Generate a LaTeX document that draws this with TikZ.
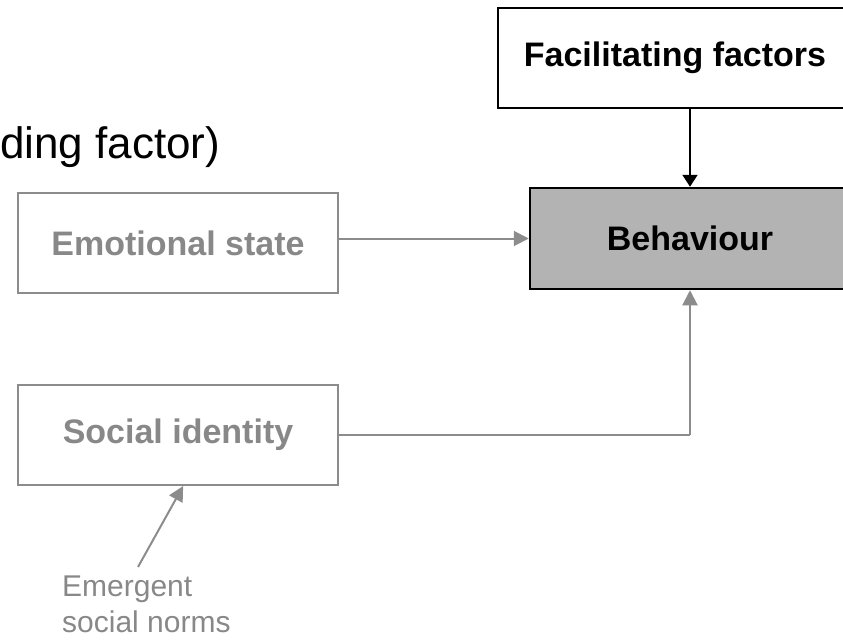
\documentclass[tikz,border=0pt]{standalone}
\usepackage{fontspec}
\setmainfont{Liberation Sans}
\usetikzlibrary{arrows.meta,calc}
\definecolor{linegray}{HTML}{8C8C8C}
\definecolor{textgray}{HTML}{888888}
\definecolor{behfill}{HTML}{B3B3B3}

\begin{document}
\begin{tikzpicture}[x=1pt,y=-1pt,
  box/.style={draw, rectangle, inner sep=0pt, line width=2pt,
    font=\fontsize{34}{40}\selectfont\bfseries},
  greybox/.style={box, draw=linegray, text=textgray},
  blackbox/.style={box, draw=black},
  greyline/.style={draw=linegray, line width=2pt},
  greyarrow/.style={greyline, -{Triangle[length=15pt,width=15pt]}},
  blackarrow/.style={draw=black, line width=2pt, -{Triangle[length=12pt,width=15pt]}},
]
\useasboundingbox (0,0) rectangle (843,642);

% heading fragment at the top left
\node[anchor=base west, inner sep=0pt, font=\fontsize{44}{52}\selectfont] (title)
  at (0,158) {ding factor)};

% boxes
\node[blackbox, minimum width=354pt, minimum height=100pt] (fac) at (675,58)
  {Facilitating factors};
\node[blackbox, fill=behfill, line width=2.5pt, minimum width=320pt, minimum height=101pt]
  (beh) at (690,238.5) {Behaviour};
\node[greybox, minimum width=320pt, minimum height=100pt] (emo) at (178,243)
  {Emotional state};
\node[greybox, minimum width=320pt, minimum height=100pt] (soc) at (178,435)
  {Social identity};

% label below the social identity box
\node[anchor=north west, inner sep=0pt, align=left, text=textgray,
  font=\fontsize{30}{36}\selectfont] (norms) at (62,576)
  {Emergent\\social norms};
\coordinate (normstail) at (138,567);

% connectors
\draw[blackarrow] (fac.south -| beh.north) -- (beh.north);
\draw[greyarrow] (emo.east |- beh.west) -- (beh.west);
\draw[greyline] (soc.east) -- (soc.east -| beh.south);
\draw[greyarrow] (soc.east -| beh.south) -- (beh.south);
\draw[greyarrow] (normstail) -- ($(soc.south west)!0.516!(soc.south east)$);
\end{tikzpicture}
\end{document}
